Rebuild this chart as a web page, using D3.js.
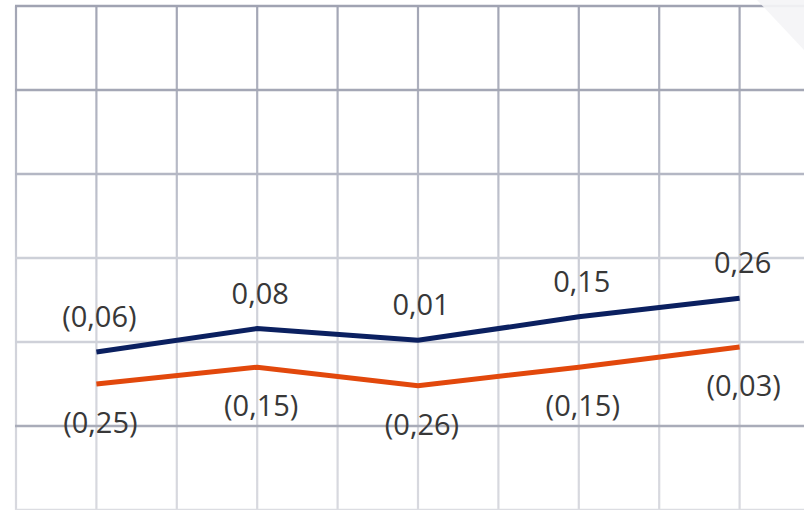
<!DOCTYPE html>
<html>
<head>
<meta charset="utf-8">
<script src="https://cdn.jsdelivr.net/npm/d3@7/dist/d3.min.js"></script>
<style>
  html, body { margin: 0; padding: 0; background: #ffffff; }
  svg { display: block; }
</style>
</head>
<body>
<div id="chart"></div>
<script>
// Two series plotted over five periods (values are the labelled figures)
const periods = [1, 2, 3, 4, 5];
const seriesUpper = [-0.06, 0.08, 0.01, 0.15, 0.26];
const seriesLower = [-0.25, -0.15, -0.26, -0.15, -0.03];
// Grid ticks
const xGridTicks = [0, 1, 2, 3, 4, 5, 6, 7, 8, 9, 10];
const yGridTicks = [2, 1.5, 1, 0.5, 0, -0.5, -1];

const W = 804, H = 510;
const svg = d3.select("#chart").append("svg")
  .attr("width", W).attr("height", H);

// Grid column index -> x; periods sit on every other column
const xGrid = d3.scaleLinear().domain([0, 10]).range([16, 820]);
const xPos = p => xGrid(2 * p - 1);
const y = d3.scaleLinear().domain([-1, 2]).range([510, 6]);

// vertical fade on the grid: darker near the top, lighter lower down
const defs = svg.append("defs");
const vg = defs.append("linearGradient")
  .attr("id", "vfade").attr("gradientUnits", "userSpaceOnUse")
  .attr("x1", 0).attr("y1", 0).attr("x2", 0).attr("y2", H);
vg.append("stop").attr("offset", "0").attr("stop-color", "#a2a5b4");
vg.append("stop").attr("offset", "0.35").attr("stop-color", "#b9bcc8");
vg.append("stop").attr("offset", "0.55").attr("stop-color", "#cfd1d9");
vg.append("stop").attr("offset", "1").attr("stop-color", "#d8d9df");

const hColor = d3.scaleOrdinal()
  .domain(yGridTicks)
  .range(["#a0a3b2", "#a4a7b5", "#b4b7c4", "#cdd0d8", "#cfd1d9", "#a9acb9", "#dcdde2"]);

const grid = svg.append("g");
grid.selectAll("line.v").data(xGridTicks).join("line")
  .attr("class", "v")
  .attr("x1", d => xGrid(d)).attr("x2", d => xGrid(d))
  .attr("y1", y(2)).attr("y2", H)
  .attr("stroke", "url(#vfade)").attr("stroke-width", 2.2);
grid.selectAll("line.h").data(yGridTicks).join("line")
  .attr("class", "h")
  .attr("x1", xGrid(0) - 1).attr("x2", W)
  .attr("y1", d => y(d)).attr("y2", d => y(d))
  .attr("stroke", d => hColor(d)).attr("stroke-width", 2.4);

// folded page corner at the top right
svg.append("path")
  .attr("d", `M757,0 L${W},0 L${W},50 Z`)
  .attr("fill", "#f4f4f6").attr("opacity", 0.92);

const line = d3.line()
  .x((d, i) => xPos(periods[i]))
  .y(d => y(d))
  .curve(d3.curveLinear);

svg.append("path").datum(seriesLower)
  .attr("d", line).attr("fill", "none")
  .attr("stroke", "#e2480c").attr("stroke-width", 5)
  .attr("stroke-linejoin", "miter");
svg.append("path").datum(seriesUpper)
  .attr("d", line).attr("fill", "none")
  .attr("stroke", "#0b2060").attr("stroke-width", 5)
  .attr("stroke-linejoin", "miter");

// accounting style: negatives in parentheses, comma decimal separator
const fmt = v => {
  const s = Math.abs(v).toFixed(2).replace(".", ",");
  return v < 0 ? `(${s})` : s;
};

const labelStyle = sel => sel
  .attr("text-anchor", "middle")
  .attr("font-family", "'Open Sans', Lato, sans-serif")
  .attr("font-size", 29)
  .attr("fill", "#383838");

svg.append("g").selectAll("text").data(seriesUpper).join("text")
  .attr("x", (d, i) => xPos(periods[i]) + 3)
  .attr("y", d => y(d) - 25)
  .text(d => fmt(d))
  .call(labelStyle);

svg.append("g").selectAll("text").data(seriesLower).join("text")
  .attr("x", (d, i) => xPos(periods[i]) + 4)
  .attr("y", d => y(d) + 49)
  .text(d => fmt(d))
  .call(labelStyle);
</script>
</body>
</html>
